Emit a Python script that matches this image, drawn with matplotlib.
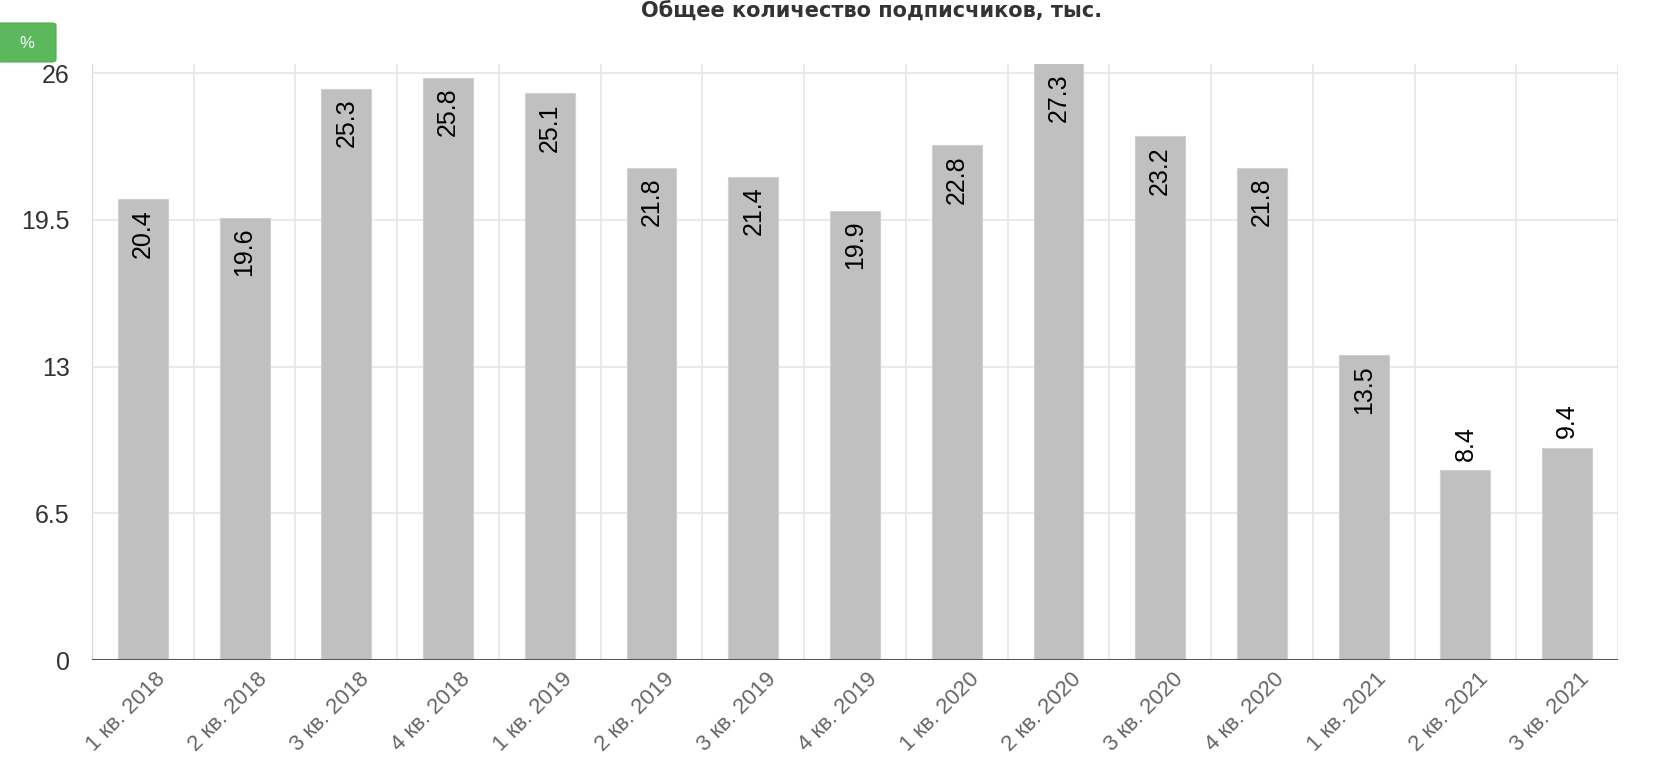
import matplotlib.pyplot as plt
from matplotlib.patches import FancyBboxPatch
import matplotlib.transforms as mtransforms

# data
quarters = ['1 кв. 2018', '2 кв. 2018', '3 кв. 2018', '4 кв. 2018',
            '1 кв. 2019', '2 кв. 2019', '3 кв. 2019', '4 кв. 2019',
            '1 кв. 2020', '2 кв. 2020', '3 кв. 2020', '4 кв. 2020',
            '1 кв. 2021', '2 кв. 2021', '3 кв. 2021']
subscribers = [20.4, 19.6, 25.3, 25.8, 25.1, 21.8, 21.4, 19.9,
               22.8, 27.3, 23.2, 21.8, 13.5, 8.4, 9.4]
y_ticks = [0, 6.5, 13, 19.5, 26]
y_labels = ['0', '6.5', '13', '19.5', '26']
title = 'Общее количество подписчиков, тыс.'

plt.rcParams['font.family'] = ['Liberation Sans', 'DejaVu Sans']

fig = plt.figure(figsize=(16.72, 7.74), dpi=100)
ax = fig.add_axes([92 / 1672, 1 - 660 / 774, 1526 / 1672, 596 / 774])

x = range(len(quarters))
ymax = 26.4
ax.bar(x, subscribers, width=0.49, color='#c0c0c0', edgecolor='#d0d0d0',
       linewidth=0.8, zorder=2)

ax.set_xlim(-0.5, len(quarters) - 0.5)
ax.set_ylim(0, ymax)

# grid
for yt in y_ticks[1:]:
    ax.axhline(yt, color='#e6e6e6', linewidth=1.2, zorder=1)
for i in range(len(quarters) + 1):
    ax.axvline(i - 0.5, color='#e6e6e6', linewidth=1.2, zorder=1)
ax.axvline(-0.5, color='#d8d8d8', linewidth=1.5, zorder=1)
ax.axhline(0, color='#555555', linewidth=2.2, zorder=3)

for s in ax.spines.values():
    s.set_visible(False)

ax.set_yticks(y_ticks)
ax.set_yticklabels(y_labels, fontsize=18, color='#333333')
ax.tick_params(axis='y', length=0, pad=16)

ax.set_xticks(list(x))
ax.set_xticklabels(quarters, fontsize=16, color='#666666', rotation=45,
                   ha='right', rotation_mode='anchor')
ax.tick_params(axis='x', length=0, pad=6)
shift = mtransforms.ScaledTranslation(12 / 100, 0, fig.dpi_scale_trans)
for lbl in ax.get_xticklabels():
    lbl.set_transform(lbl.get_transform() + shift)

# value labels
for i, v in enumerate(subscribers):
    if v > 10:
        ax.annotate(f'{v}', (i, min(v, ymax)), xytext=(0, -7), textcoords='offset points',
                    rotation=90, ha='center', va='top', fontsize=18, color='#000000',
                    zorder=4, annotation_clip=False)
    else:
        ax.annotate(f'{v}', (i, v), xytext=(0, 7), textcoords='offset points',
                    rotation=90, ha='center', va='bottom', fontsize=18, color='#000000',
                    zorder=4)

# title
fig.text(872 / 1672, 1 - 12 / 774, title, ha='center', va='center',
         fontsize=15, fontweight='bold', color='#333333', family='DejaVu Sans')

# green badge
badge = FancyBboxPatch((-4 / 1672, 1 - 62 / 774), 60 / 1672, 39 / 774,
                       boxstyle='round,pad=0,rounding_size=0.003',
                       transform=fig.transFigure, facecolor='#5cb85c',
                       edgecolor='#4cae4c', linewidth=0.8)
fig.patches.append(badge)
fig.text(27 / 1672, 1 - 43 / 774, '%', ha='center', va='center',
         fontsize=12, color='white')

plt.savefig('out.png', dpi=100)
